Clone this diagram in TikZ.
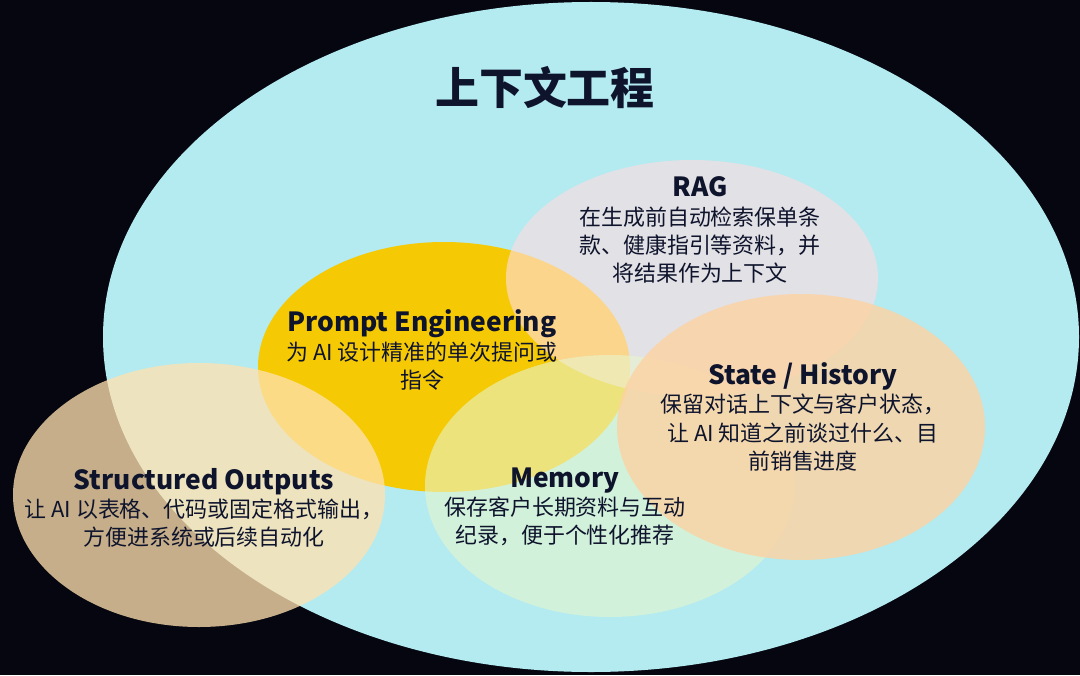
\documentclass[tikz,border=0pt]{standalone}
\usepackage{fontspec}
\setmainfont{Noto Sans CJK SC}
\definecolor{nightbg}{HTML}{05060F}
\definecolor{ctxcyan}{HTML}{B3EBF1}
\definecolor{promptgold}{HTML}{F5CA05}
\definecolor{ragpink}{HTML}{FFDCDE}
\definecolor{memmint}{HTML}{E8F5CD}
\definecolor{structan}{HTML}{FFE1AF}
\definecolor{statepeach}{HTML}{FDD2A2}
\definecolor{inkblue}{HTML}{0F142D}
\begin{document}
\begin{tikzpicture}[
  venntext/.style={align=center, text=inkblue, font=\fontsize{12.5}{16}\selectfont},
  headtext/.style={font=\fontsize{15}{18}\selectfont\bfseries}
]
\fill[nightbg] (0,0) rectangle (21.6,13.5);

% the big context-engineering ellipse
\fill[ctxcyan] (11.82,6.76) ellipse [x radius=9.76, y radius=6.70];

% overlapping parts
\fill[promptgold] (8.88,6.16) ellipse [x radius=3.72, y radius=2.50];
\fill[ragpink, fill opacity=0.62]    (13.84,7.94) ellipse [x radius=3.72, y radius=2.36];
\fill[memmint, fill opacity=0.6]     (12.20,3.78) ellipse [x radius=3.70, y radius=2.62];
\fill[structan, fill opacity=0.77]   (3.98,3.60)  ellipse [x radius=3.72, y radius=2.64];
\fill[statepeach, fill opacity=0.8]  (16.02,4.96) ellipse [x radius=3.68, y radius=2.66];

\node[text=inkblue, font=\fontsize{25}{30}\selectfont\bfseries] (title) at (10.90,11.74) {上下文工程};

\node[venntext] (rag) at (14.00,8.90)
  {{\fontsize{15}{18}\selectfont\bfseries RAG}\\
   在生成前自动检索保单条\\款、健康指引等资料，并\\将结果作为上下文};
\node[venntext] (prompt) at (8.44,6.50)
  {{\fontsize{15}{18}\selectfont\bfseries Prompt Engineering}\\
   为 AI 设计精准的单次提问或\\指令};
\node[venntext] (state) at (16.06,5.16)
  {{\fontsize{15}{18}\selectfont\bfseries State / History}\\
   保留对话上下文与客户状态，\\让 AI 知道之前谈过什么、目\\前销售进度};
\node[venntext] (structured) at (4.08,3.34)
  {{\fontsize{15}{18}\selectfont\bfseries Structured Outputs}\\
   让 AI 以表格、代码或固定格式输出，\\方便进系统或后续自动化};
\node[venntext] (memory) at (11.30,3.36)
  {{\fontsize{15}{18}\selectfont\bfseries Memory}\\
   保存客户长期资料与互动\\纪录，便于个性化推荐};
\end{tikzpicture}
\end{document}
